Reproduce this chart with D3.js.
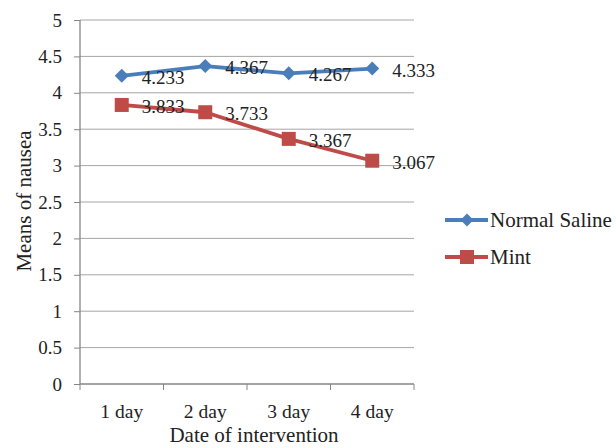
<!DOCTYPE html>
<html><head><meta charset="utf-8">
<script src="https://cdn.jsdelivr.net/npm/d3@7/dist/d3.min.js"></script>
<style>body{margin:0;background:#fff}svg text{font-family:"Liberation Serif","DejaVu Serif",serif;fill:#222}</style>
</head><body><svg id="c" width="616" height="448"></svg>
<script>
const categories = ["1 day","2 day","3 day","4 day"];
const salineValues = [4.233,4.367,4.267,4.333];
const mintValues = [3.833,3.733,3.367,3.067];
const yTicks = [0,0.5,1,1.5,2,2.5,3,3.5,4,4.5,5];
const seriesNames = ["Normal Saline","Mint"];

const svg = d3.select("#c");
const x = d3.scaleBand().domain(categories).range([80,414]);
const y = d3.scaleLinear().domain([0,5]).range([384,20]);
const colors = ["#4A7EBB","#BE4B48"];

// gridlines
svg.append("g").selectAll("line").data(yTicks.filter(d=>d>0)).join("line")
  .attr("x1",80).attr("x2",414).attr("y1",d=>y(d)).attr("y2",d=>y(d))
  .attr("stroke","#a6a6a6").attr("stroke-width",1);

// y axis
const ya = svg.append("g").attr("transform","translate(80,0)")
  .call(d3.axisLeft(y).tickValues(yTicks).tickSize(6).tickPadding(12).tickFormat(d=>d));
ya.select(".domain").attr("stroke","#868686").attr("stroke-width",1.3).attr("d","M0,384V20");
ya.selectAll(".tick line").attr("stroke","#868686").attr("x1",-6).attr("x2",0);
ya.selectAll("text").style("font-size","19px").attr("fill","#222");

// x axis
const xa = svg.append("g").attr("transform","translate(0,384)")
  .call(d3.axisBottom(x).tickSize(0).tickPadding(20));
xa.select(".domain").attr("stroke","#868686").attr("stroke-width",1.3).attr("d","M80,0H414");
xa.selectAll("text").style("font-size","19.5px").attr("fill","#222");
const bounds = [80].concat(categories.map(c=>x(c)+x.bandwidth()));
xa.selectAll(".bt").data(bounds).join("line").attr("class","bt")
  .attr("x1",d=>d).attr("x2",d=>d).attr("y1",0).attr("y2",6).attr("stroke","#868686");

// titles
svg.append("text").attr("x",254).attr("y",442).attr("text-anchor","middle").style("font-size","21px").text("Date of intervention");
svg.append("text").attr("transform","translate(31,201) rotate(-90)").attr("text-anchor","middle").style("font-size","21px").text("Means of nausea");

const cx = c => x(c)+x.bandwidth()/2;
const line = d3.line().x((d,i)=>cx(categories[i])).y(d=>y(d));
const series = [salineValues, mintValues];

series.forEach((vals,si)=>{
  svg.append("path").datum(vals).attr("d",line).attr("fill","none")
    .attr("stroke",colors[si]).attr("stroke-width",3.8).attr("stroke-linejoin","round");
});
// markers
svg.append("g").selectAll("path").data(salineValues).join("path")
  .attr("transform",(d,i)=>`translate(${cx(categories[i])},${y(d)})`)
  .attr("d","M0,-7L7,0L0,7L-7,0Z").attr("fill",colors[0]);
svg.append("g").selectAll("rect").data(mintValues).join("rect")
  .attr("x",(d,i)=>cx(categories[i])-7).attr("y",d=>y(d)-7).attr("width",14).attr("height",14).attr("fill",colors[1]);

// data labels
series.forEach((vals,si)=>{
  svg.append("g").selectAll("text").data(vals).join("text")
    .attr("x",(d,i)=>cx(categories[i])+20).attr("y",d=>y(d)+8)
    .style("font-size","19px").text(d=>d3.format(".3f")(d));
});

// legend
seriesNames.forEach((n,i)=>{
  const ly = 220 + i*37;
  const g = svg.append("g");
  g.append("line").attr("x1",445).attr("x2",488).attr("y1",ly).attr("y2",ly).attr("stroke",colors[i]).attr("stroke-width",3.8);
  if(i===0) g.append("path").attr("transform",`translate(467,${ly})`).attr("d","M0,-6.5L6.5,0L0,6.5L-6.5,0Z").attr("fill",colors[0]);
  else g.append("rect").attr("x",460).attr("y",ly-7).attr("width",14).attr("height",14).attr("fill",colors[1]);
  g.append("text").attr("x",490).attr("y",ly+7).style("font-size","21px").text(n);
});
</script></body></html>
